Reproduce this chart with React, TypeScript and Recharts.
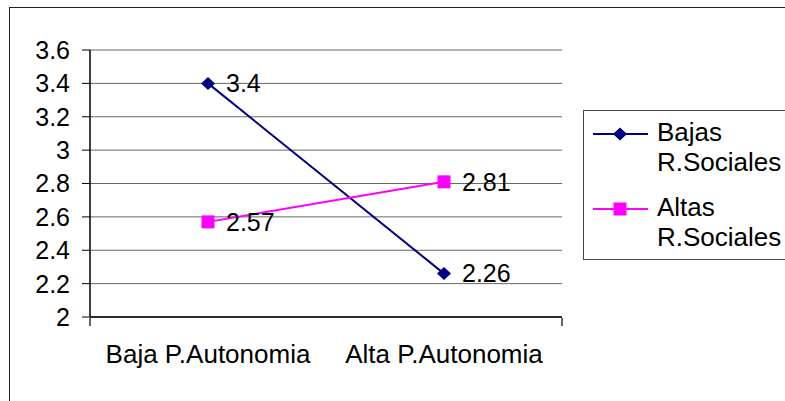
import React from "react";
import {
  LineChart,
  Line,
  XAxis,
  YAxis,
  CartesianGrid,
  Legend,
  LabelList,
} from "recharts";

const categories = ["Baja P.Autonomia", "Alta P.Autonomia"];
const bajasValues = [3.4, 2.26];
const altasValues = [2.57, 2.81];
const yTicks = [2, 2.2, 2.4, 2.6, 2.8, 3, 3.2, 3.4, 3.6];
const edgeTicks = [0, 1, 2];

const FONT = '"Liberation Sans", Arial, sans-serif';
const NAVY = "#000080";
const MAGENTA = "#FF00FF";

const rows = categories.map((name, i) => ({
  name,
  bajas: bajasValues[i],
  altas: altasValues[i],
}));

function Diamond({ cx, cy, color }: any) {
  if (cx == null || cy == null) return null;
  return (
    <polygon
      points={`${cx - 7},${cy} ${cx},${cy - 6.5} ${cx + 7},${cy} ${cx},${cy + 6.5}`}
      fill={color}
    />
  );
}

function Square({ cx, cy, color }: any) {
  if (cx == null || cy == null) return null;
  return <rect x={cx - 6.5} y={cy - 6.5} width={13} height={13} fill={color} />;
}

const series = [
  { key: "bajas", label: "Bajas R.Sociales", color: NAVY, Marker: Diamond },
  { key: "altas", label: "Altas R.Sociales", color: MAGENTA, Marker: Square },
];

function LegendBox() {
  return (
    <div
      style={{
        border: "1px solid #444",
        background: "#fff",
        paddingTop: 6,
        width: 210,
        height: 150,
        boxSizing: "border-box",
        fontFamily: FONT,
        fontSize: 26,
        lineHeight: "30px",
        color: "#000",
      }}
    >
      {series.map((s, i) => (
        <div
          key={s.key}
          style={{ display: "flex", alignItems: "flex-start", marginTop: i ? 15 : 0 }}
        >
          <svg width={55} height={30} style={{ marginLeft: 9, flex: "none" }}>
            <line x1={0} y1={17} x2={55} y2={17} stroke={s.color} strokeWidth={2} />
            <s.Marker cx={27} cy={17} color={s.color} />
          </svg>
          <div style={{ marginLeft: 9, width: 130 }}>{s.label}</div>
        </div>
      ))}
    </div>
  );
}

// bottom axis only draws the short marks between categories
const EmptyTick = () => <g />;

export default function App() {
  return (
    <div style={{ position: "absolute", left: 0, top: 0, width: 785, height: 401, background: "#fff" }}>
      <div
        style={{
          position: "absolute",
          left: 9,
          top: 7,
          width: 800,
          height: 420,
          borderLeft: "1.5px solid #222",
          borderTop: "1.5px solid #222",
        }}
      />
      <LineChart
        width={785}
        height={401}
        data={rows}
        margin={{ top: 50, right: 223, bottom: 82, left: 0 }}
        style={{ position: "absolute", left: 0, top: 0, fontFamily: FONT }}
      >
        <CartesianGrid vertical={false} stroke="#666" />
        <XAxis
          dataKey="name"
          scale="band"
          height={1}
          axisLine={{ stroke: "#000", strokeWidth: 1.5 }}
          tickLine={false}
          tickSize={0}
          tickMargin={28}
          interval={0}
          tick={{ fontSize: 26, fill: "#000", fontFamily: FONT }}
        />
        <XAxis
          xAxisId="edges"
          type="number"
          domain={[0, 2]}
          ticks={edgeTicks}
          interval={0}
          allowDataOverflow
          height={1}
          axisLine={false}
          tick={EmptyTick}
          tickSize={8}
          tickLine={{ stroke: "#000", strokeWidth: 1.2 }}
        />
        <YAxis
          domain={[2, 3.6]}
          ticks={yTicks}
          width={90}
          interval={0}
          axisLine={{ stroke: "#000", strokeWidth: 1.5 }}
          tickLine={{ stroke: "#000" }}
          tickSize={8}
          tickMargin={12}
          tickFormatter={(v: number) => String(v)}
          tick={{ fontSize: 25, fill: "#000", fontFamily: FONT }}
        />
        <YAxis
          yAxisId="frame"
          orientation="right"
          domain={[2, 3.6]}
          width={0}
          axisLine={{ stroke: "#808080", strokeWidth: 1.5 }}
          tick={false}
          tickLine={false}
        />
        <Legend
          layout="vertical"
          align="center"
          verticalAlign="middle"
          content={() => <LegendBox />}
          wrapperStyle={{ left: 583, top: 110, width: 210, height: 150 }}
        />
        {series.map((s) => (
          <Line
            key={s.key}
            type="linear"
            dataKey={s.key}
            name={s.label}
            stroke={s.color}
            strokeWidth={2}
            isAnimationActive={false}
            dot={(p: any) => <s.Marker key={`${s.key}-${p.index}`} cx={p.cx} cy={p.cy} color={s.color} />}
            activeDot={false}
          >
            <LabelList
              dataKey={s.key}
              position="right"
              offset={18}
              fontSize={25}
              fill="#000"
              fontFamily={FONT}
            />
          </Line>
        ))}
      </LineChart>
    </div>
  );
}
